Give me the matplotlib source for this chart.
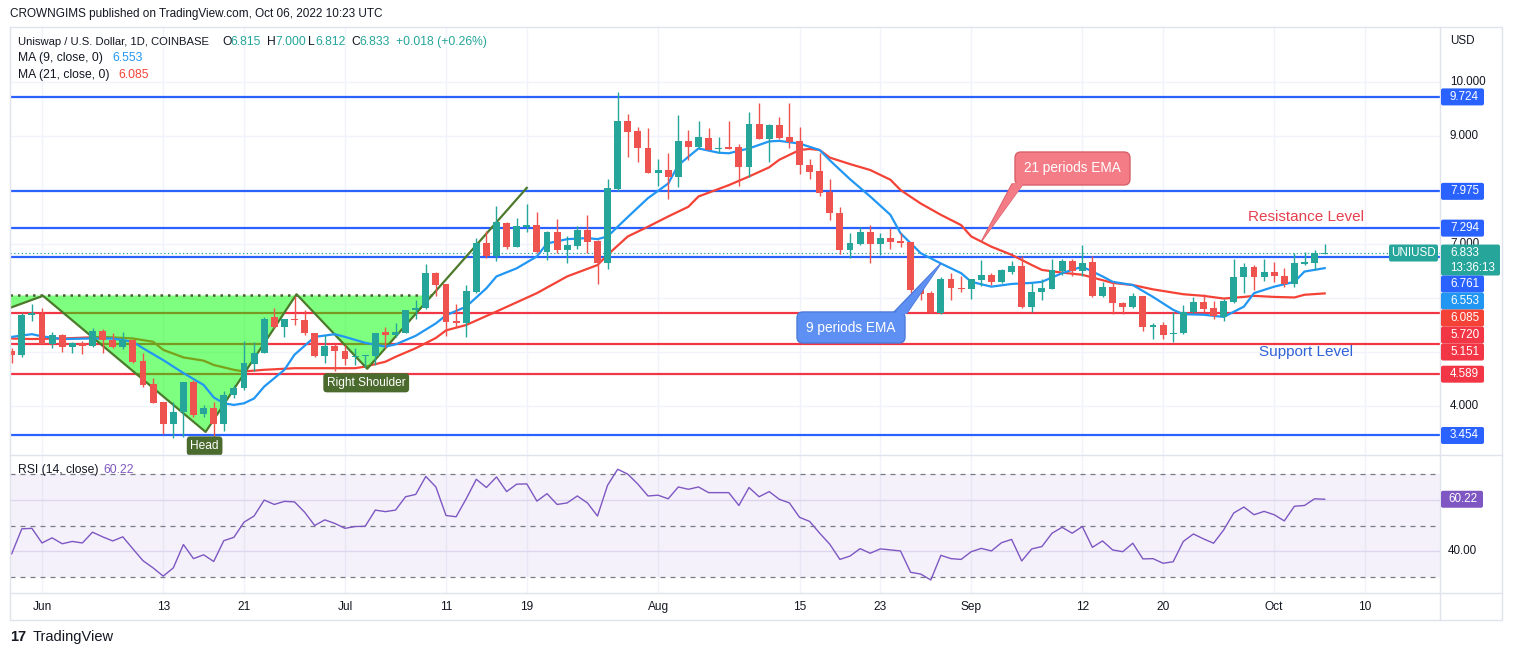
import numpy as np
import pandas as pd
import matplotlib
matplotlib.use("Agg")
import matplotlib.pyplot as plt
from matplotlib.patches import FancyBboxPatch, Polygon

plt.rcParams['font.family'] = ['Liberation Sans', 'DejaVu Sans']

# ---- data (daily candles, UNI/USD, from 2022-05-29) ----
start = "2022-05-29"
opens = [5.02, 4.95, 5.68,
         5.70, 5.15, 5.31, 5.09, 5.17, 5.11, 5.38, 5.23, 5.09, 5.23,
         4.84, 4.40, 4.07, 3.67, 3.88, 4.44, 3.85, 3.96, 3.66, 4.20,
         4.33, 4.78, 4.99, 5.64, 5.47, 5.62, 5.60, 5.35, 4.93, 5.12,
         5.01, 4.90, 4.93, 4.93, 5.37, 5.31, 5.36, 5.77, 5.81, 6.47,
         6.26, 5.58, 5.54, 6.12, 7.01, 6.78, 7.38, 6.95, 7.32, 7.35,
         6.86, 7.23, 6.89, 6.97, 7.26, 7.06, 6.65, 8.01, 9.28, 9.10, 8.77,
         8.32, 8.37, 8.25, 8.91, 8.80, 8.96, 8.76, 8.79, 8.79, 8.43,
         9.22, 8.94, 9.20, 8.98, 8.90, 8.46, 8.36, 7.97, 7.57, 6.89,
         7.00, 7.23, 7.00, 7.12, 7.06, 7.04, 6.18, 6.09, 5.73, 6.35, 6.19,
         6.16, 6.33, 6.43, 6.30, 6.49, 6.59, 5.84, 6.12, 6.17, 6.50,
         6.68, 6.50, 6.66, 6.04, 6.21, 5.91, 5.83, 6.04, 5.47, 5.50,
         5.33, 5.35, 5.75, 5.93, 5.81, 5.65, 5.93, 6.38, 6.58, 6.38,
         6.49, 6.41, 6.26, 6.63, 6.65, 6.815]
highs = [5.07, 5.73, 5.88,
         5.81, 5.37, 5.33, 5.19, 5.21, 5.44, 5.43, 5.35, 5.37, 5.23,
         4.98, 4.51, 4.07, 4.08, 4.44, 4.48, 4.02, 4.07, 4.27, 4.39,
         5.21, 5.19, 5.65, 5.81, 5.62, 6.03, 5.78, 5.36, 5.31, 5.14,
         5.13, 5.08, 4.95, 5.36, 5.46, 5.53, 5.78, 5.96, 6.63, 6.49,
         6.26, 5.89, 6.24, 7.11, 7.25, 7.70, 7.40, 7.48, 7.75, 7.60,
         7.25, 7.46, 7.14, 7.34, 7.54, 7.07, 8.20, 9.82, 9.40, 9.17, 9.14,
         8.57, 8.68, 9.39, 9.12, 9.28, 9.14, 8.98, 9.28, 8.86, 9.44,
         9.61, 9.23, 9.36, 9.61, 9.16, 8.57, 8.69, 8.20, 7.69, 7.20,
         7.32, 7.35, 7.21, 7.29, 7.20, 7.04, 6.26, 6.13, 6.39, 6.47, 6.41,
         6.36, 6.70, 6.46, 6.53, 6.69, 6.77, 6.27, 6.36, 6.72, 6.73,
         6.73, 6.98, 6.77, 6.30, 6.30, 5.93, 6.09, 6.04, 5.54, 5.56,
         5.75, 5.87, 6.02, 6.07, 5.95, 5.99, 6.72, 6.64, 6.61, 6.73,
         6.67, 6.55, 6.83, 6.86, 6.88, 7.000]
lows = [4.80, 4.90, 5.58,
        5.14, 5.07, 5.00, 4.98, 4.96, 5.10, 4.98, 5.07, 5.05, 4.79,
        4.36, 4.06, 3.48, 3.40, 3.43, 3.80, 3.80, 3.37, 3.53, 4.14,
        4.30, 4.64, 4.98, 5.44, 5.28, 5.50, 5.32, 4.90, 4.80, 4.64,
        4.76, 4.76, 4.73, 4.76, 5.07, 5.28, 5.35, 5.62, 5.79, 6.03,
        5.29, 5.46, 5.28, 6.09, 6.75, 6.69, 6.90, 6.95, 7.23, 6.84,
        6.70, 6.84, 6.65, 6.90, 6.84, 6.26, 6.53, 7.99, 8.62, 8.51, 8.32,
        8.07, 7.83, 8.05, 8.56, 8.77, 8.74, 8.68, 8.76, 8.07, 8.25,
        8.94, 8.52, 8.94, 8.77, 8.30, 8.20, 7.88, 7.44, 6.81, 6.75,
        6.98, 6.64, 6.80, 6.90, 6.94, 6.10, 5.97, 5.73, 5.70, 5.96, 6.12,
        5.99, 6.22, 6.24, 6.27, 6.44, 5.81, 5.75, 5.96, 6.16, 6.43,
        6.40, 6.40, 6.02, 6.01, 5.71, 5.70, 5.81, 5.39, 5.25, 5.25,
        5.19, 5.33, 5.72, 5.75, 5.62, 5.58, 5.91, 6.09, 6.15, 6.32,
        6.30, 6.20, 6.21, 6.61, 6.52, 6.812]
closes = [4.95, 5.69, 5.72,
          5.15, 5.31, 5.09, 5.16, 5.11, 5.38, 5.22, 5.10, 5.22, 4.82,
          4.39, 4.06, 3.67, 3.88, 4.44, 3.83, 3.96, 3.66, 4.20, 4.33,
          4.79, 4.99, 5.62, 5.47, 5.62, 5.60, 5.35, 4.93, 5.12, 5.01,
          4.87, 4.93, 4.95, 5.36, 5.31, 5.37, 5.77, 5.81, 6.47, 6.24,
          5.56, 5.54, 6.13, 7.01, 6.78, 7.40, 6.95, 7.33, 7.35, 6.86,
          7.23, 6.89, 6.98, 7.26, 7.04, 6.64, 8.03, 9.28, 9.08, 8.77, 8.32,
          8.37, 8.25, 8.91, 8.80, 8.98, 8.75, 8.78, 8.76, 8.43, 9.22,
          8.94, 9.20, 8.96, 8.88, 8.46, 8.34, 7.95, 7.57, 6.89, 7.01,
          7.23, 7.00, 7.12, 7.04, 7.02, 6.15, 6.07, 5.75, 6.35, 6.18, 6.16,
          6.35, 6.43, 6.30, 6.51, 6.59, 5.84, 6.12, 6.18, 6.52, 6.68,
          6.50, 6.65, 6.04, 6.21, 5.90, 5.84, 6.04, 5.47, 5.50, 5.31,
          5.36, 5.75, 5.93, 5.80, 5.67, 5.95, 6.39, 6.58, 6.38, 6.49,
          6.40, 6.26, 6.65, 6.67, 6.84, 6.833]
rsi_values = [39.0, 48.7, 48.9,
              43.2, 45.2, 42.9, 43.8, 43.2, 47.4, 45.6, 44.0, 45.6, 40.9,
              36.3, 33.5, 30.3, 33.5, 42.6, 37.1, 38.6, 36.0, 44.1, 45.4,
              51.3, 53.7, 59.9, 58.2, 59.4, 59.2, 55.2, 50.0, 52.2, 50.8,
              48.9, 49.6, 49.7, 56.0, 55.4, 56.0, 61.2, 62.1, 69.1, 65.0,
              53.9, 53.4, 60.4, 68.0, 64.8, 68.9, 63.2, 66.1, 66.2, 59.5,
              62.4, 58.2, 58.8, 61.5, 58.8, 53.7, 65.7, 71.9, 70.0, 66.1, 61.5,
              61.8, 60.4, 65.0, 64.1, 65.0, 62.8, 62.8, 62.8, 57.8, 64.8,
              61.2, 63.2, 60.2, 58.8, 53.2, 51.6, 47.0, 42.7, 36.8, 38.1,
              41.0, 39.2, 40.9, 40.5, 40.1, 31.8, 31.1, 28.8, 38.4, 37.1, 36.8,
              39.8, 41.1, 40.1, 43.3, 44.6, 36.2, 40.9, 41.8, 47.0, 49.3,
              47.0, 49.6, 41.5, 44.0, 40.5, 39.8, 43.1, 37.0, 37.1, 35.3,
              35.9, 43.8, 46.7, 44.8, 43.1, 48.3, 54.9, 57.2, 54.2, 55.5,
              54.2, 51.8, 57.5, 57.8, 60.4, 60.22]

# moving average lines, sampled at candle indices
ma9_idx = [0, 2, 3, 5, 8, 10, 12, 13, 15, 17, 19, 20, 21, 22, 23, 24, 25, 27, 28,
           30, 32, 33, 35, 37, 38, 40, 42, 43, 45, 47, 48, 50, 52, 53, 55, 57,
           58, 59, 60, 61, 63, 65, 66, 68, 70, 71, 73, 75, 76, 78, 80, 81, 83,
           85, 87, 88, 90, 92, 94, 95, 97, 99, 101, 102, 104, 106, 108, 109,
           111, 113, 115, 116, 118, 120, 122, 123, 125, 127, 128, 130]
ma9_val = [5.28, 5.33, 5.29, 5.24, 5.25, 5.25, 5.19, 5.07, 4.85, 4.61, 4.39, 4.16,
           4.05, 4.02, 4.05, 4.14, 4.36, 4.67, 4.95, 5.28, 5.33, 5.28, 5.17, 5.10,
           5.14, 5.30, 5.53, 5.68, 5.84, 6.18, 6.40, 6.55, 6.77, 7.01, 7.09, 7.11,
           7.09, 7.14, 7.32, 7.50, 7.85, 8.12, 8.46, 8.77, 8.69, 8.68, 8.77, 8.90,
           8.91, 8.86, 8.74, 8.55, 8.20, 7.88, 7.54, 7.20, 6.83, 6.64, 6.46, 6.30,
           6.21, 6.26, 6.28, 6.30, 6.46, 6.58, 6.40, 6.30, 6.24, 6.02, 5.78, 5.70,
           5.69, 5.65, 5.84, 6.09, 6.21, 6.30, 6.49, 6.553]
ma21_idx = [0, 2, 5, 9, 12, 14, 15, 17, 19, 20, 22, 23, 25, 28, 32, 34, 35, 37,
            38, 40, 42, 43, 45, 48, 52, 55, 58, 59, 61, 63, 65, 67, 68, 71, 73,
            75, 76, 78, 79, 80, 81, 83, 85, 87, 88, 90, 92, 94, 95, 97, 99, 101,
            102, 104, 106, 108, 109, 111, 113, 115, 116, 118, 120, 122, 123,
            125, 127, 128, 130]
ma21_val = [5.25, 5.24, 5.25, 5.28, 5.25, 5.19, 5.04, 4.90, 4.84, 4.76, 4.67,
            4.64, 4.67, 4.70, 4.70, 4.70, 4.73, 4.82, 4.91, 5.07, 5.26, 5.40,
            5.50, 5.75, 6.09, 6.40, 6.61, 6.80, 7.14, 7.32, 7.51, 7.69, 7.88,
            8.09, 8.25, 8.42, 8.56, 8.74, 8.76, 8.74, 8.60, 8.48, 8.37, 8.19,
            8.00, 7.75, 7.54, 7.35, 7.14, 6.95, 6.80, 6.61, 6.52, 6.47, 6.43,
            6.33, 6.28, 6.24, 6.16, 6.10, 6.07, 6.04, 5.99, 6.02, 6.04, 6.02,
            6.01, 6.06, 6.085]

blue_levels = [9.724, 7.975, 7.294, 6.761, 3.454]
red_levels = [5.720, 5.151, 4.589]
price_ticks = [10, 9, 7, 4]
tick_dates = ["2022-06-01", "2022-06-13", "2022-06-21", "2022-07-01", "2022-07-11",
              "2022-07-19", "2022-08-01", "2022-08-15", "2022-08-23", "2022-09-01",
              "2022-09-12", "2022-09-20", "2022-10-01", "2022-10-10"]
tick_labels = ["Jun", "13", "21", "Jul", "11", "19", "Aug", "15", "23", "Sep",
               "12", "20", "Oct", "10"]

# head & shoulders drawing (candle index, price)
hs_idx = [-0.2, 3.1, 19.2, 28.2, 35.2, 51.0]
hs_price = [5.815, 6.04, 3.52, 6.07, 4.69, 8.04]
neckline = 6.056

UP, DN = '#26A69A', '#EF5350'
BLUE, RED = '#2962FF', '#F23645'
MA9C, MA21C = '#2196F3', '#F44336'
TXT = '#131722'

W, H = 1514, 655
X0, X1 = (10 - 11.7) / 10.1, (1440 - 11.7) / 10.1
Y0, Y1 = 10 - (455 - 82) / 54, 10 + (82 - 27) / 54
R0, R1 = 30 - (593 - 577) / 2.55, 70 + (474 - 455) / 2.55


def px_x(i):
    return 10 + (i - X0) / (X1 - X0) * 1430


def px_y(p):
    return 455 - (p - Y0) / (Y1 - Y0) * 428


def px_r(v):
    return 593 - (v - R0) / (R1 - R0) * 138


fig = plt.figure(figsize=(W / 100, H / 100), dpi=100)
fig.patch.set_facecolor('white')
main = fig.add_axes([10 / W, 1 - 455 / H, 1430 / W, 428 / H])
rsi_ax = fig.add_axes([10 / W, 1 - 593 / H, 1430 / W, 138 / H])

n = len(closes)
x = np.arange(n)
o, hi, lo, c = map(np.array, (opens, highs, lows, closes))
dates = pd.date_range(start, periods=n)
tick_pos = [(pd.Timestamp(d) - dates[0]).days for d in tick_dates]

for ax in (main, rsi_ax):
    ax.set_xlim(X0, X1)
    for s in ax.spines.values():
        s.set_visible(False)
    ax.set_xticks(tick_pos)
    ax.tick_params(length=0, labelleft=False, labelbottom=False)
    ax.grid(color='#F0F3FA', lw=1)
    ax.set_axisbelow(True)

main.set_ylim(Y0, Y1)
main.set_yticks(np.arange(4, 11))

# levels
for lvl in blue_levels:
    main.axhline(lvl, color=BLUE, lw=1.6, zorder=1)
for lvl in red_levels:
    main.axhline(lvl, color=RED, lw=1.6, zorder=1)
main.axhline(c[-1], color=UP, lw=0.9, ls=(0, (1, 2)), zorder=1)

# moving averages and pattern
main.plot(ma21_idx, ma21_val, color=MA21C, lw=1.6, zorder=2)
seg = 4
t = (neckline - hs_price[seg]) / (hs_price[seg + 1] - hs_price[seg])
x_cross = hs_idx[seg] + t * (hs_idx[seg + 1] - hs_idx[seg])
xs = np.linspace(hs_idx[0], x_cross, 500)
zig = np.interp(xs, hs_idx, hs_price)
main.fill_between(xs, zig, neckline, color='#00FF00', alpha=0.5, lw=0, zorder=3)
main.plot([hs_idx[0], x_cross], [neckline, neckline], color='#4A5A32', lw=1.8,
          ls=(0, (1, 2)), zorder=3)
main.plot(hs_idx, hs_price, color='#4C7A2B', lw=1.6, zorder=4)
main.plot(ma9_idx, ma9_val, color=MA9C, lw=1.6, zorder=4)

# candles
cols = np.where(c >= o, UP, DN)
main.vlines(x, lo, hi, colors=cols, lw=1, zorder=5)
main.bar(x, np.maximum(np.abs(c - o), 0.012), bottom=np.minimum(o, c), width=0.68,
         color=cols, lw=0, zorder=6)

# pattern labels
lab = dict(color='white', fontsize=8.6, ha='center', va='center', zorder=8)
main.text(35.1, 4.43, "Right Shoulder",
          bbox=dict(boxstyle='round,pad=0.3,rounding_size=0.3', fc='#4B6A2D', ec='none'), **lab)
main.text(19.1, 3.26, "Head",
          bbox=dict(boxstyle='round,pad=0.3,rounding_size=0.3', fc='#4B6A2D', ec='none'), **lab)
main.text(128.1, 7.50, "Resistance Level", color='#E5404E', fontsize=11,
          ha='center', va='center', zorder=8)
main.text(128.1, 5.00, "Support Level", color='#2E63D8', fontsize=11,
          ha='center', va='center', zorder=8)

# RSI pane
rsi_ax.set_ylim(R0, R1)
rsi_ax.set_yticks([40, 60])
rsi_ax.grid(axis='y', color='#E6E1F2', lw=1)
rsi_ax.axhspan(30, 70, color='#7E57C2', alpha=0.08, lw=0)
for lvl in (70, 50, 30):
    rsi_ax.axhline(lvl, color='#787B86', lw=0.9, ls=(0, (4, 4)))
rsi_ax.plot(x, rsi_values, color='#7E57C2', lw=1)
rsi_ax.tick_params(labelbottom=True, pad=5.5, labelsize=8.6, labelcolor=TXT)
rsi_ax.set_xticklabels(tick_labels)

# overlay in pixel coordinates
ov = fig.add_axes([0, 0, 1, 1], zorder=10)
ov.set_xlim(0, W)
ov.set_ylim(H, 0)
ov.axis('off')

border = '#E0E3EB'
ov.plot([10, 1502, 1502, 10, 10], [27, 27, 620, 620, 27], color=border, lw=1)
ov.plot([10, 1502], [455, 455], color=border, lw=1)
ov.plot([10, 1502], [593, 593], color=border, lw=1)
ov.plot([1440, 1440], [27, 620], color=border, lw=1)

ov.text(10, 14, "CROWNGIMS published on TradingView.com, Oct 06, 2022 10:23 UTC",
        fontsize=8.5, color=TXT, va='center')
legend = [(18, "Uniswap / U.S. Dollar, 1D, COINBASE", TXT, 8.1), (222, "O", TXT, 8.7),
          (230, "6.815", UP, 8.7), (267, "H", TXT, 8.7), (275, "7.000", UP, 8.7),
          (308, "L", TXT, 8.7), (315, "6.812", UP, 8.7), (351, "C", TXT, 8.7),
          (359, "6.833", UP, 8.7), (396, "+0.018 (+0.26%)", UP, 8.7)]
for lx, s, col, fs in legend:
    ov.text(lx, 42, s, fontsize=fs, color=col, va='center')
ov.text(18, 58, "MA (9, close, 0)", fontsize=8.7, color=TXT, va='center')
ov.text(112, 58, f"{ma9_val[-1]:.3f}", fontsize=8.7, color=MA9C, va='center')
ov.text(18, 75, "MA (21, close, 0)", fontsize=8.7, color=TXT, va='center')
ov.text(118, 75, f"{ma21_val[-1]:.3f}", fontsize=8.7, color=MA21C, va='center')
ov.text(18, 470, "RSI (14, close)", fontsize=8.7, color=TXT, va='center')
ov.text(103, 470, f"{rsi_values[-1]:.2f}", fontsize=8.7, color='#7E57C2', va='center')

# callouts
tip21 = (px_x(96), px_y(np.interp(96, ma21_idx, ma21_val)))
ov.add_patch(Polygon([(1012, 184), (1023, 184), tip21], closed=True,
                     fc='#F47C87', ec='#D9606B', lw=1, zorder=11))
ov.add_patch(FancyBboxPatch((1015, 152), 115, 33, boxstyle='round,pad=0,rounding_size=6',
                            fc='#F47C87', ec='#D9606B', lw=1, zorder=12))
ov.add_patch(Polygon([(1013, 183), (1024, 183), tip21], closed=True,
                     fc='#F47C87', ec='none', zorder=13))
ov.text(1072, 168, "21 periods EMA", color='white', fontsize=9.8, ha='center',
        va='center', zorder=14)

tip9 = (px_x(92), px_y(np.interp(92, ma9_idx, ma9_val)))
ov.add_patch(Polygon([(893, 313), (907, 313), tip9], closed=True,
                     fc='#5E8FF2', ec='#4C7BDB', lw=1, zorder=11))
ov.add_patch(FancyBboxPatch((797, 312), 108, 31, boxstyle='round,pad=0,rounding_size=6',
                            fc='#5E8FF2', ec='#4C7BDB', lw=1, zorder=12))
ov.add_patch(Polygon([(894, 314), (906, 314), tip9], closed=True,
                     fc='#5E8FF2', ec='none', zorder=13))
ov.text(851, 328, "9 periods EMA", color='white', fontsize=9.8, ha='center',
        va='center', zorder=14)

# right price scale
ov.text(1450, 41, "USD", fontsize=8.4, color=TXT, va='center')
for tk in price_ticks:
    ov.text(1450, px_y(tk), f"{tk:.3f}", fontsize=8.4, color=TXT, va='center', zorder=11)

scale_labels = [(p, BLUE, False) for p in blue_levels] + \
               [(p, RED, False) for p in red_levels] + \
               [(ma9_val[-1], MA9C, False), (ma21_val[-1], MA21C, False),
                (c[-1], UP, True)]
prev_bottom = -1e9
for p, col, tall in sorted(scale_labels, key=lambda r: -r[0]):
    top = max(px_y(p) - 8.5, prev_bottom)
    h = 31 if tall else 17
    w = 59 if tall else 43
    ov.add_patch(FancyBboxPatch((1441, top), w, h, boxstyle='round,pad=0,rounding_size=2',
                                fc=col, ec='none', zorder=12))
    ov.text(1450, top + 8.5, f"{p:.3f}", fontsize=8.4, color='white', va='center', zorder=13)
    if tall:
        ov.text(1450, top + 23, "13:36:13", fontsize=8.4, color='white', va='center', zorder=13)
        ov.add_patch(FancyBboxPatch((1389, top), 49, 17, boxstyle='round,pad=0,rounding_size=2',
                                    fc=col, ec='none', zorder=12))
        ov.text(1413.5, top + 8.5, "UNIUSD", fontsize=8.4, color='white', ha='center',
                va='center', zorder=13)
    prev_bottom = top + h

# RSI scale
ry = px_r(rsi_values[-1])
ov.add_patch(FancyBboxPatch((1441, ry - 8.5), 42, 17, boxstyle='round,pad=0,rounding_size=2',
                            fc='#7E57C2', ec='none', zorder=12))
ov.text(1448, ry, f"{rsi_values[-1]:.2f}", fontsize=8.4, color='white', va='center', zorder=13)
ov.text(1448, px_r(40), "40.00", fontsize=8.4, color=TXT, va='center')

# footer
ov.text(10, 637, "17", fontsize=10.5, fontweight='heavy', color=TXT, va='center')
ov.text(33, 637, "TradingView", fontsize=10.5, color=TXT, va='center')

fig.savefig("out.png", dpi=100, facecolor='white')
